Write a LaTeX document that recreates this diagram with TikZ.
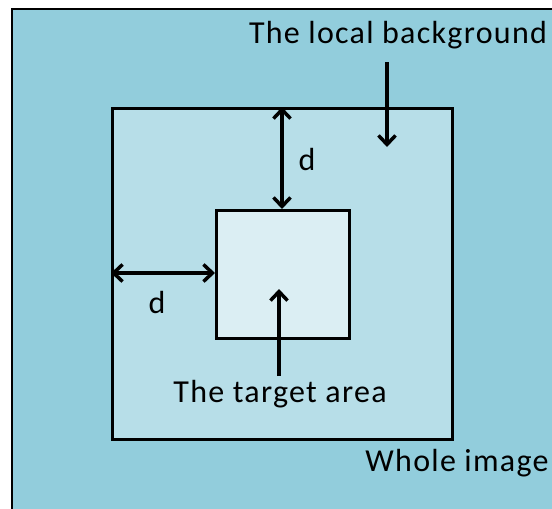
\documentclass[tikz,border=0pt]{standalone}
\usepackage{fontspec}
\setmainfont{Carlito}[LetterSpace=4]
\usetikzlibrary{arrows.meta}
\definecolor{outerblue}{HTML}{92CDDC}
\definecolor{midblue}{HTML}{B7DEE8}
\definecolor{innerblue}{HTML}{DBEEF3}
\tikzset{
  box/.style={draw=black, line width=2.8pt},
  tip/.style={Straight Barb[length=9pt,width=17pt,line width=3.5pt]},
  arr/.style={line width=3.5pt, -{Straight Barb[length=9pt,width=17pt,line width=3.5pt]}},
  dblarr/.style={line width=3.5pt, {Straight Barb[length=9pt,width=17pt,line width=3.5pt]}-{Straight Barb[length=9pt,width=17pt,line width=3.5pt]}},
  lbl/.style={font=\fontsize{32}{36}\selectfont, inner sep=0pt}
}
\begin{document}
\begin{tikzpicture}[x=1pt,y=-1pt]
\useasboundingbox (0,0) rectangle (552,509);
\clip (0,0) rectangle (552,509);
% whole image
\draw[box, fill=outerblue] (12,9) rectangle (570,530);
% local background and target area
\node[box, fill=midblue, minimum width=340pt, minimum height=331pt, anchor=north west, inner sep=0pt] (bg) at (111,107) {};
\node[box, fill=innerblue, minimum width=133pt, minimum height=128pt, anchor=north west, inner sep=0pt] (tgt) at (215,209) {};
% labels
\node[lbl] (lbltitle) at (398,35) {The local background};
\node[lbl] (lbltarget) at (280,394) {The target area};
\node[lbl] (lblwhole) at (457,463) {Whole image};
\node[lbl] (dv) at (307,159) {d};
\node[lbl] (dh) at (157,302) {d};
% arrow anchors
\coordinate (lbgstart) at (387,62);
\coordinate (lbgend) at (387,147);
\coordinate (tgtstart) at (279,376);
\coordinate (tgtend) at (279,289);
\coordinate (vtop) at (bg.north -| 282,0);
\coordinate (vbot) at (tgt.north -| 282,0);
\coordinate (hleft) at (bg.west |- 0,273);
\coordinate (hright) at (tgt.west |- 0,273);
% connectors
\draw[arr] (lbgstart) -- (lbgend);
\draw[arr] (tgtstart) -- (tgtend);
\draw[dblarr] (vtop) -- (vbot);
\draw[dblarr] (hleft) -- (hright);
\end{tikzpicture}
\end{document}
